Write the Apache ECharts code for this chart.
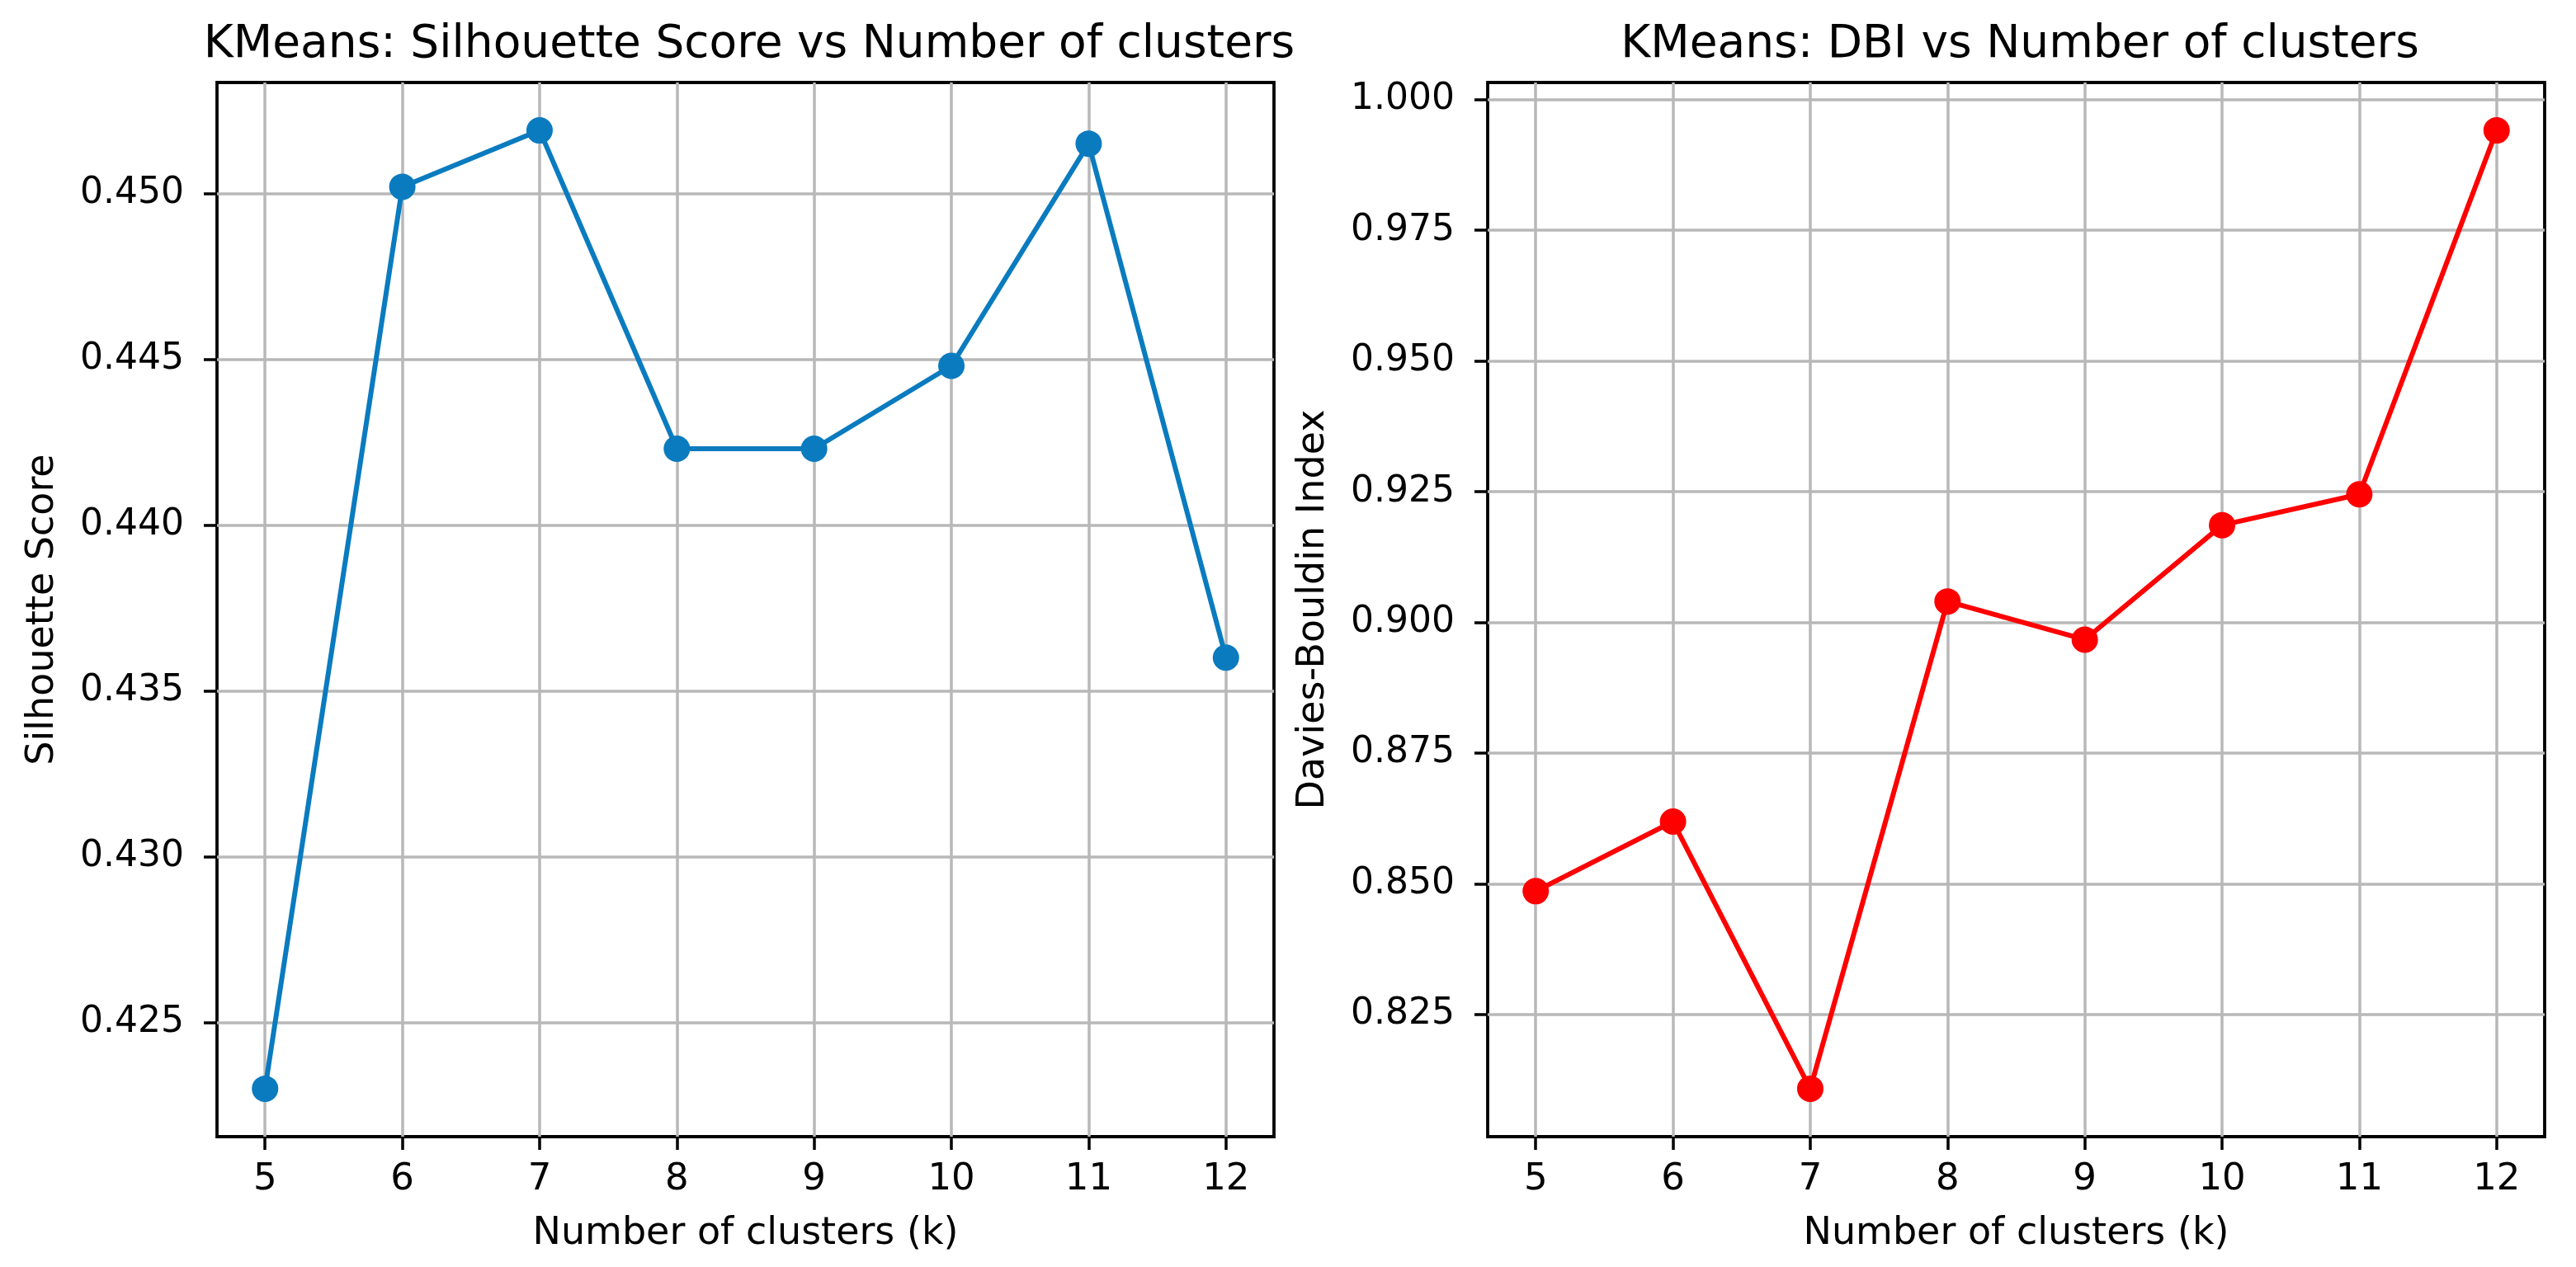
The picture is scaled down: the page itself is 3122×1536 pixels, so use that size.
<!DOCTYPE html>
<html>
<head>
<meta charset="utf-8">
<script src="https://cdn.jsdelivr.net/npm/echarts@6/dist/echarts.min.js"></script>
<style>html,body{margin:0;padding:0;background:#fff}#c{width:3122px;height:1536px}</style>
</head>
<body>
<div id="c"></div>
<script>
const clusters = [5, 6, 7, 8, 9, 10, 11, 12];
const silhouette = [0.4230, 0.4502, 0.4519, 0.4423, 0.4423, 0.4448, 0.4515, 0.4360];
const dbi = [0.8486, 0.8619, 0.8108, 0.9040, 0.8967, 0.9186, 0.9245, 0.9941];
const silTicks = [0.425, 0.430, 0.435, 0.440, 0.445, 0.450];
const dbiTicks = [0.825, 0.850, 0.875, 0.900, 0.925, 0.950, 0.975, 1.000];
const xTicks = [5, 6, 7, 8, 9, 10, 11, 12];

const FONT = 'DejaVu Sans';
const chart = echarts.init(document.getElementById('c'), null, {renderer: 'canvas'});

function pad(arr) {
  const mn = Math.min(...arr), mx = Math.max(...arr), r = mx - mn;
  return [mn - 0.05 * r, mx + 0.05 * r];
}
const xr = pad(clusters), sr = pad(silhouette), dr = pad(dbi);

function xAxis(gi) {
  return {
    type: 'value', gridIndex: gi, min: xr[0], max: xr[1],
    name: 'Number of clusters (k)', nameLocation: 'middle', nameGap: 95,
    nameTextStyle: {fontFamily: FONT, fontSize: 46, color: '#000'},
    axisLine: {show: false},
    axisTick: {show: true, length: 16, customValues: xTicks, lineStyle: {color: '#000', width: 3.5}},
    axisLabel: {customValues: xTicks, fontFamily: FONT, fontSize: 45, color: '#000', margin: 30},
    splitLine: {show: true, lineStyle: {color: '#b8b8b8', width: 3.5}}
  };
}
function yAxis(gi, name, range, ticks) {
  return {
    type: 'value', gridIndex: gi, min: range[0], max: range[1],
    name: name, nameLocation: 'middle', nameGap: 188, nameRotate: 90,
    nameTextStyle: {fontFamily: FONT, fontSize: 46, color: '#000'},
    axisLine: {show: false},
    axisTick: {show: true, length: 16, customValues: ticks, lineStyle: {color: '#000', width: 3.5}},
    axisLabel: {customValues: ticks, fontFamily: FONT, fontSize: 44, color: '#000', margin: 40,
      formatter: v => Number(v).toFixed(3)},
    splitLine: {show: true, lineStyle: {color: '#b8b8b8', width: 3.5}}
  };
}

const option = {
  backgroundColor: '#fff',
  animation: false,
  title: [
    {text: 'KMeans: Silhouette Score vs Number of clusters', left: 903, top: 22, textAlign: 'center',
      textStyle: {fontFamily: FONT, fontSize: 55, fontWeight: 'normal', color: '#000'}},
    {text: 'KMeans: DBI vs Number of clusters', left: 2443, top: 22, textAlign: 'center',
      textStyle: {fontFamily: FONT, fontSize: 55, fontWeight: 'normal', color: '#000'}}
  ],
  grid: [
    {left: 263, top: 100, width: 1281, height: 1278, show: true, borderColor: '#000', borderWidth: 3.8, backgroundColor: 'transparent', containLabel: false},
    {left: 1803, top: 100, width: 1281, height: 1278, show: true, borderColor: '#000', borderWidth: 3.8, backgroundColor: 'transparent', containLabel: false}
  ],
  xAxis: [xAxis(0), xAxis(1)],
  yAxis: [yAxis(0, 'Silhouette Score', sr, silTicks), yAxis(1, 'Davies-Bouldin Index', dr, dbiTicks)],
  series: [
    {type: 'line', xAxisIndex: 0, yAxisIndex: 0, data: clusters.map((k, i) => [k, silhouette[i]]),
      symbol: 'circle', symbolSize: 32, lineStyle: {color: '#0a7bbf', width: 6},
      itemStyle: {color: '#0a7bbf'}},
    {type: 'line', xAxisIndex: 1, yAxisIndex: 1, data: clusters.map((k, i) => [k, dbi[i]]),
      symbol: 'circle', symbolSize: 32, lineStyle: {color: '#ff0000', width: 6},
      itemStyle: {color: '#ff0000'}}
  ]
};
chart.setOption(option);
</script>
</body>
</html>
